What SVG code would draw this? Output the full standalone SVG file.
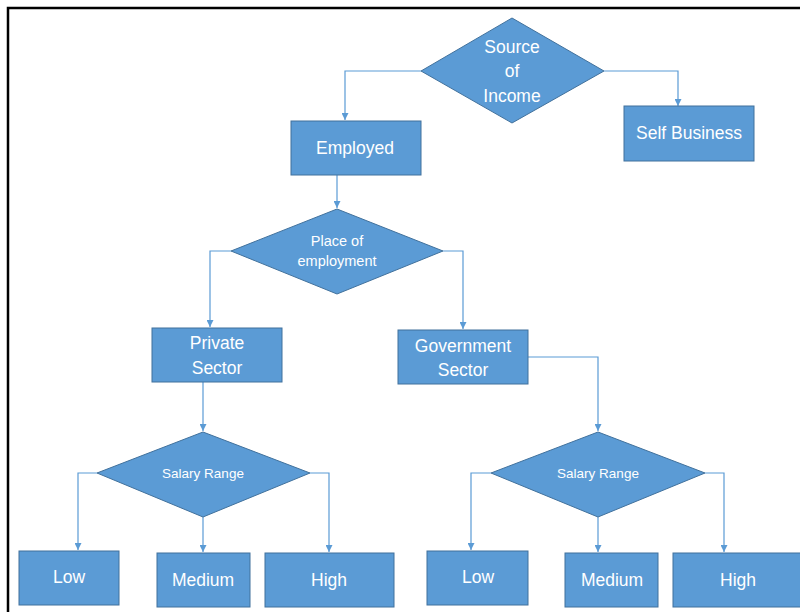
<svg xmlns="http://www.w3.org/2000/svg" width="800" height="612" viewBox="0 0 800 612">
  <defs>
    <marker id="arrow" viewBox="0 0 8 8" refX="8" refY="4" markerWidth="7" markerHeight="7" markerUnits="userSpaceOnUse" orient="auto">
      <path d="M0,0 L8,4 L0,8 z" fill="#5B9BD5"/>
    </marker>
    <style>
      .shape { fill: #5B9BD5; stroke: #41719C; stroke-width: 1; }
      .link { fill: none; stroke: #5B9BD5; stroke-width: 1.2; marker-end: url(#arrow); }
      .label { fill: #FFFFFF; font-family: "Liberation Sans", Arial, sans-serif; text-anchor: middle; dominant-baseline: central; }
      .big { font-size: 17.5px; }
      .small { font-size: 13.5px; }
      .mid { font-size: 14.5px; }
    </style>
  </defs>

  <rect width="800" height="612" fill="#FFFFFF"/>
  <!-- frame -->
  <path d="M8,612 L8,8 L800,8" fill="none" stroke="#000000" stroke-width="2.5"/>

  <g id="connectors">
    <path class="link" d="M421,71 H345 V120"/>
    <path class="link" d="M604,71 H678 V106"/>
    <path class="link" d="M337,175 V208"/>
    <path class="link" d="M231,251 H210 V327"/>
    <path class="link" d="M443,251 H463 V329"/>
    <path class="link" d="M203,382 V431"/>
    <path class="link" d="M528,357 H598 V431"/>
    <path class="link" d="M97,473 H78 V550"/>
    <path class="link" d="M203,517 V552"/>
    <path class="link" d="M310,473 H329 V552"/>
    <path class="link" d="M491,473 H471 V550"/>
    <path class="link" d="M598,517 V552"/>
    <path class="link" d="M705,473 H724 V552"/>
  </g>

  <g id="source-of-income">
    <polygon class="shape" points="512,18 604,71 512,123 421,71"/>
    <text class="label big" x="512" y="47">Source</text>
    <text class="label big" x="512" y="71">of</text>
    <text class="label big" x="512" y="96">Income</text>
  </g>

  <g id="employed">
    <rect class="shape" x="291" y="121" width="130" height="54"/>
    <text class="label big" x="355" y="148">Employed</text>
  </g>

  <g id="self-business">
    <rect class="shape" x="624" y="106" width="130" height="55"/>
    <text class="label big" x="689" y="133">Self Business</text>
  </g>

  <g id="place-of-employment">
    <polygon class="shape" points="337,209 443,251 337,294 231,251"/>
    <text class="label mid" x="337" y="241">Place of</text>
    <text class="label mid" x="337" y="261">employment</text>
  </g>

  <g id="private-sector">
    <rect class="shape" x="152" y="328" width="130" height="54"/>
    <text class="label big" x="217" y="343">Private</text>
    <text class="label big" x="217" y="368">Sector</text>
  </g>

  <g id="government-sector">
    <rect class="shape" x="398" y="330" width="130" height="54"/>
    <text class="label big" x="463" y="346">Government</text>
    <text class="label big" x="463" y="370">Sector</text>
  </g>

  <g id="salary-range-private">
    <polygon class="shape" points="203,432 310,473 203,517 97,473"/>
    <text class="label small" x="203" y="473">Salary Range</text>
  </g>

  <g id="salary-range-government">
    <polygon class="shape" points="598,432 705,473 598,517 491,473"/>
    <text class="label small" x="598" y="473">Salary Range</text>
  </g>

  <g id="private-low">
    <rect class="shape" x="19" y="551" width="100" height="54"/>
    <text class="label big" x="69" y="577">Low</text>
  </g>
  <g id="private-medium">
    <rect class="shape" x="157" y="553" width="93" height="54"/>
    <text class="label big" x="203" y="580">Medium</text>
  </g>
  <g id="private-high">
    <rect class="shape" x="265" y="553" width="129" height="54"/>
    <text class="label big" x="329" y="580">High</text>
  </g>

  <g id="government-low">
    <rect class="shape" x="427" y="551" width="101" height="54"/>
    <text class="label big" x="478" y="577">Low</text>
  </g>
  <g id="government-medium">
    <rect class="shape" x="565" y="553" width="93" height="54"/>
    <text class="label big" x="612" y="580">Medium</text>
  </g>
  <g id="government-high">
    <rect class="shape" x="673" y="553" width="130" height="54"/>
    <text class="label big" x="738" y="580">High</text>
  </g>
</svg>
